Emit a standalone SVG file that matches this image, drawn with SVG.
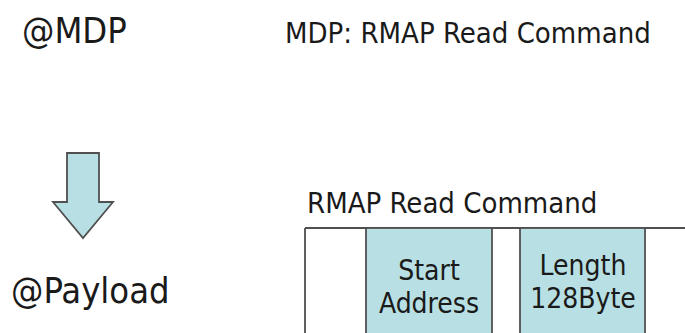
<svg xmlns="http://www.w3.org/2000/svg" width="685" height="333" viewBox="0 0 685 333">
<style>
text{font-family:"DejaVu Sans Condensed","DejaVu Sans",sans-serif;fill:#1a1a1a}
.big{font-size:36px}
.mid{font-size:29px}
.cell{font-size:28px;text-anchor:middle}
.shape{fill:#b8e0e4;stroke:#505050;stroke-width:1.8}
.line{stroke:#505050;stroke-width:1.8;fill:none}
</style>
<rect width="685" height="333" fill="#fff"/>
<g id="mdp"><text class="big" x="22" y="43">@MDP</text></g>
<g id="title"><text class="mid" x="285" y="43">MDP: RMAP Read Command</text></g>
<g id="arrow"><polygon class="shape" points="67,153 99,153 99,202 113,202 83,238 53,202 67,202"/></g>
<g id="payload"><text class="big" x="11" y="303">@Payload</text></g>
<g id="rmap-label"><text class="mid" x="307" y="213">RMAP Read Command</text></g>
<g id="table">
<path class="line" d="M305,228 H685 M305,228 V333"/>
</g>
<g id="start-address">
<rect class="shape" x="366" y="228" width="126" height="110"/>
<text class="cell" x="429" y="280">Start</text>
<text class="cell" x="429" y="313">Address</text>
</g>
<g id="length">
<rect class="shape" x="520" y="228" width="125" height="110"/>
<text class="cell" x="583" y="275">Length</text>
<text class="cell" x="583" y="308">128Byte</text>
</g>
</svg>
